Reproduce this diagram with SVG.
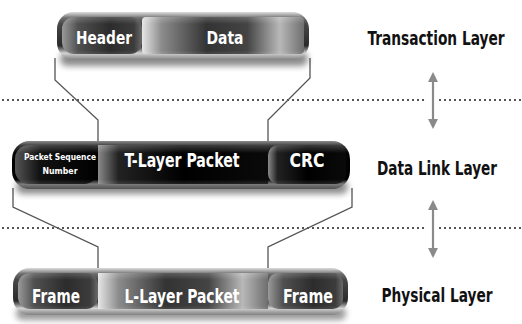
<svg xmlns="http://www.w3.org/2000/svg" width="522" height="324" viewBox="0 0 522 324">
  <defs>
    <style>
      .lbl { font-family: "DejaVu Sans Condensed", "DejaVu Sans", sans-serif; font-weight: bold; fill: #ffffff; text-anchor: middle; }
      .side { font-family: "DejaVu Sans Condensed", "DejaVu Sans", sans-serif; font-weight: bold; fill: #111111; text-anchor: middle; font-size: 16px; }
      .wire { fill: none; stroke: #555555; stroke-width: 1.3; }
      .dots { stroke: #555555; stroke-width: 2; stroke-dasharray: 2 3; }
      .arr { stroke: #8a8a8a; stroke-width: 2.2; marker-start: url(#ah); marker-end: url(#ah); }
    </style>
    <marker id="ah" viewBox="0 0 10 10" refX="8" refY="5" markerWidth="4.5" markerHeight="4.5" orient="auto-start-reverse">
      <path d="M0 0 L10 5 L0 10 Z" fill="#8a8a8a"/>
    </marker>
    <filter id="soft" x="-10%" y="-50%" width="120%" height="200%">
      <feGaussianBlur stdDeviation="3"/>
    </filter>
    <!-- rims -->
    <linearGradient id="rimGray" x1="0" y1="0" x2="0" y2="1">
      <stop offset="0" stop-color="#c8c8c8"/>
      <stop offset="0.12" stop-color="#505050"/>
      <stop offset="0.7" stop-color="#2a2a2a"/>
      <stop offset="0.86" stop-color="#d0d0d0"/>
      <stop offset="1" stop-color="#5a5a5a"/>
    </linearGradient>
    <linearGradient id="rimBlack" x1="0" y1="0" x2="0" y2="1">
      <stop offset="0" stop-color="#4a4a4a"/>
      <stop offset="0.1" stop-color="#050505"/>
      <stop offset="0.8" stop-color="#000000"/>
      <stop offset="0.9" stop-color="#6a6a6a"/>
      <stop offset="1" stop-color="#1a1a1a"/>
    </linearGradient>
    <!-- segment fills -->
    <linearGradient id="segDark" x1="0" y1="0" x2="1" y2="0">
      <stop offset="0" stop-color="#9a9a9a"/>
      <stop offset="0.2" stop-color="#505050"/>
      <stop offset="0.6" stop-color="#2c2c2c"/>
      <stop offset="0.9" stop-color="#3c3c3c"/>
      <stop offset="1" stop-color="#6a6a6a"/>
    </linearGradient>
    <linearGradient id="segSteel" x1="0" y1="0" x2="1" y2="0">
      <stop offset="0" stop-color="#e6e6e6"/>
      <stop offset="0.12" stop-color="#8c8c8c"/>
      <stop offset="0.4" stop-color="#333333"/>
      <stop offset="0.65" stop-color="#444444"/>
      <stop offset="0.85" stop-color="#b8b8b8"/>
      <stop offset="1" stop-color="#6e6e6e"/>
    </linearGradient>
    <linearGradient id="segBlack" x1="0" y1="0" x2="1" y2="0">
      <stop offset="0" stop-color="#8a8a8a"/>
      <stop offset="0.12" stop-color="#222222"/>
      <stop offset="0.5" stop-color="#000000"/>
      <stop offset="1" stop-color="#0a0a0a"/>
    </linearGradient>
    <linearGradient id="segBlackL" x1="0" y1="0" x2="1" y2="0">
      <stop offset="0" stop-color="#555555"/>
      <stop offset="0.3" stop-color="#111111"/>
      <stop offset="1" stop-color="#000000"/>
    </linearGradient>
    <linearGradient id="gloss" x1="0" y1="0" x2="0" y2="1">
      <stop offset="0" stop-color="#ffffff" stop-opacity="0.35"/>
      <stop offset="0.25" stop-color="#ffffff" stop-opacity="0"/>
      <stop offset="0.8" stop-color="#ffffff" stop-opacity="0"/>
      <stop offset="1" stop-color="#ffffff" stop-opacity="0.25"/>
    </linearGradient>
  </defs>

  <rect width="522" height="324" fill="#ffffff"/>

  <!-- layer separators and direction arrows -->
  <g id="separators">
    <line class="dots" x1="2" y1="100" x2="426" y2="100"/>
    <line class="dots" x1="439" y1="100" x2="522" y2="100"/>
    <line class="dots" x1="2" y1="228" x2="426" y2="228"/>
    <line class="dots" x1="439" y1="228" x2="522" y2="228"/>
    <line class="arr" x1="433" y1="74" x2="433" y2="127"/>
    <line class="arr" x1="433" y1="202" x2="433" y2="256"/>
  </g>

  <!-- connectors between layers -->
  <g id="connectors">
    <path class="wire" d="M55 58 V80 L98 120 V142"/>
    <path class="wire" d="M310 58 V78 L268 120 V142"/>
    <path class="wire" d="M13 188 V207 L98 247 V270"/>
    <path class="wire" d="M352 188 V207 L268 247 V270"/>
  </g>

  <!-- transaction layer packet -->
  <g id="transaction-packet">
    <rect x="60" y="52" width="248" height="14" rx="7" fill="#000" opacity="0.45" filter="url(#soft)"/>
    <rect x="57" y="12" width="252" height="48" rx="17" fill="url(#rimGray)"/>
    <rect x="62" y="17" width="80" height="37" rx="12" fill="url(#segDark)"/>
    <rect x="142" y="17" width="162" height="37" rx="4" fill="url(#segSteel)"/>
    <rect x="57" y="12" width="252" height="48" rx="17" fill="url(#gloss)"/>
    <text class="lbl" x="104" y="44" font-size="18" textLength="56" lengthAdjust="spacingAndGlyphs">Header</text>
    <text class="lbl" x="225" y="44" font-size="18" textLength="37" lengthAdjust="spacingAndGlyphs">Data</text>
  </g>

  <!-- data link layer packet -->
  <g id="datalink-packet">
    <rect x="16" y="180" width="332" height="14" rx="7" fill="#000" opacity="0.45" filter="url(#soft)"/>
    <rect x="12" y="141" width="338" height="48" rx="18" fill="url(#rimBlack)"/>
    <rect x="15" y="145" width="83" height="39" rx="14" fill="url(#segBlackL)"/>
    <rect x="98" y="145" width="170" height="39" fill="url(#segBlack)"/>
    <rect x="268" y="145" width="78" height="39" rx="10" fill="url(#segBlack)"/>
    <rect x="12" y="141" width="338" height="48" rx="18" fill="url(#gloss)"/>
    <text class="lbl" x="60" y="160" font-size="9.5" textLength="72" lengthAdjust="spacingAndGlyphs">Packet Sequence</text>
    <text class="lbl" x="60" y="174" font-size="9.5" textLength="35" lengthAdjust="spacingAndGlyphs">Number</text>
    <text class="lbl" x="182" y="167" font-size="19" textLength="115" lengthAdjust="spacingAndGlyphs">T-Layer Packet</text>
    <text class="lbl" x="307" y="167" font-size="19" textLength="35" lengthAdjust="spacingAndGlyphs">CRC</text>
  </g>

  <!-- physical layer packet -->
  <g id="physical-packet">
    <rect x="16" y="307" width="330" height="13" rx="6" fill="#000" opacity="0.4" filter="url(#soft)"/>
    <rect x="13" y="268" width="335" height="47" rx="17" fill="url(#rimGray)"/>
    <rect x="18" y="273" width="80" height="36" rx="12" fill="url(#segDark)"/>
    <rect x="98" y="273" width="170" height="36" fill="url(#segSteel)"/>
    <rect x="268" y="273" width="75" height="36" rx="10" fill="url(#segDark)"/>
    <rect x="13" y="268" width="335" height="47" rx="17" fill="url(#gloss)"/>
    <text class="lbl" x="56" y="303" font-size="19" textLength="48" lengthAdjust="spacingAndGlyphs">Frame</text>
    <text class="lbl" x="182" y="303" font-size="19" textLength="115" lengthAdjust="spacingAndGlyphs">L-Layer Packet</text>
    <text class="lbl" x="308" y="303" font-size="19" textLength="50" lengthAdjust="spacingAndGlyphs">Frame</text>
  </g>

  <!-- layer names, stretched vertically for a condensed look -->
  <g id="layer-names">
    <text class="side" transform="translate(436 45) scale(1 1.2)" textLength="137" lengthAdjust="spacingAndGlyphs">Transaction Layer</text>
    <text class="side" transform="translate(437 175) scale(1 1.2)" textLength="120" lengthAdjust="spacingAndGlyphs">Data Link Layer</text>
    <text class="side" transform="translate(437 302) scale(1 1.2)" textLength="111" lengthAdjust="spacingAndGlyphs">Physical Layer</text>
  </g>
</svg>
